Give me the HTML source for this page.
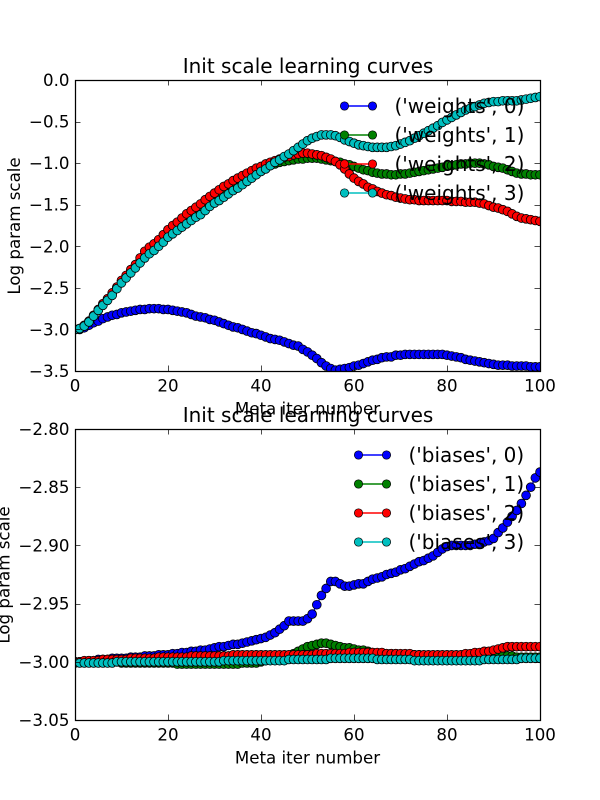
<!DOCTYPE html>
<html>
<head>
<meta charset="utf-8">
<style>
html,body{margin:0;padding:0;background:#fff;}
svg{display:block;}
text{font-family:"DejaVu Sans","Liberation Sans",sans-serif;fill:#000;}
</style>
</head>
<body>
<svg id="fig" xmlns="http://www.w3.org/2000/svg" width="600" height="800" viewBox="0 0 600 800"></svg>
<script>
const xTicks = [0, 20, 40, 60, 80, 100];
const yTicksTop = [0, -0.5, -1, -1.5, -2, -2.5, -3, -3.5];
const yTickLabelsTop = ["0.0", "\u22120.5", "\u22121.0", "\u22121.5", "\u22122.0", "\u22122.5", "\u22123.0", "\u22123.5"];
const yTicksBottom = [-2.8, -2.85, -2.9, -2.95, -3, -3.05];
const yTickLabelsBottom = ["\u22122.80", "\u22122.85", "\u22122.90", "\u22122.95", "\u22123.00", "\u22123.05"];
const weightLabels = ["('weights', 0)", "('weights', 1)", "('weights', 2)", "('weights', 3)"];
const biasLabels = ["('biases', 0)", "('biases', 1)", "('biases', 2)", "('biases', 3)"];
const weights0 = [
-3.0,-3.0,-2.98,-2.95,-2.92,-2.90,-2.87,-2.85,-2.83,-2.82,
-2.80,-2.79,-2.78,-2.77,-2.76,-2.76,-2.75,-2.75,-2.75,-2.76,
-2.76,-2.77,-2.78,-2.79,-2.80,-2.82,-2.84,-2.85,-2.86,-2.88,
-2.89,-2.91,-2.93,-2.95,-2.97,-2.98,-3.00,-3.02,-3.04,-3.05,
-3.07,-3.09,-3.11,-3.12,-3.13,-3.15,-3.17,-3.19,-3.20,-3.24,
-3.27,-3.31,-3.35,-3.40,-3.44,-3.47,-3.49,-3.48,-3.47,-3.46,
-3.44,-3.43,-3.41,-3.39,-3.37,-3.36,-3.34,-3.33,-3.33,-3.31,
-3.31,-3.30,-3.30,-3.30,-3.30,-3.30,-3.30,-3.30,-3.30,-3.30,
-3.31,-3.32,-3.33,-3.34,-3.36,-3.37,-3.38,-3.39,-3.40,-3.41,
-3.42,-3.43,-3.43,-3.43,-3.44,-3.44,-3.44,-3.44,-3.45,-3.45,-3.45];
const weights1 = [
-3.0,-2.99,-2.96,-2.91,-2.84,-2.77,-2.7,-2.64,-2.57,-2.5,
-2.42,-2.36,-2.3,-2.24,-2.17,-2.1,-2.05,-2.0,-1.95,-1.9,
-1.84,-1.79,-1.75,-1.7,-1.66,-1.62,-1.58,-1.54,-1.49,-1.45,
-1.41,-1.37,-1.33,-1.3,-1.26,-1.22,-1.19,-1.16,-1.13,-1.1,
-1.07,-1.05,-1.03,-1.01,-0.99,-0.98,-0.97,-0.96,-0.95,-0.95,
-0.94,-0.94,-0.94,-0.95,-0.96,-0.97,-0.98,-0.99,-1.01,-1.02,
-1.04,-1.06,-1.08,-1.09,-1.11,-1.12,-1.13,-1.13,-1.14,-1.14,
-1.13,-1.13,-1.12,-1.11,-1.1,-1.09,-1.08,-1.07,-1.06,-1.05,
-1.03,-1.03,-1.02,-1.01,-1.01,-1.0,-1.0,-1.0,-1.01,-1.02,
-1.04,-1.05,-1.06,-1.08,-1.1,-1.12,-1.13,-1.13,-1.14,-1.14,-1.14];
const weights2 = [
-3.0,-2.99,-2.95,-2.9,-2.83,-2.76,-2.69,-2.63,-2.56,-2.49,
-2.41,-2.35,-2.28,-2.22,-2.14,-2.06,-2.01,-1.97,-1.92,-1.86,
-1.8,-1.75,-1.71,-1.66,-1.61,-1.57,-1.53,-1.49,-1.44,-1.4,
-1.36,-1.32,-1.28,-1.25,-1.21,-1.18,-1.15,-1.12,-1.09,-1.06,
-1.04,-1.01,-0.99,-0.97,-0.95,-0.93,-0.92,-0.9,-0.89,-0.88,
-0.88,-0.89,-0.9,-0.91,-0.93,-0.95,-0.98,-1.02,-1.07,-1.13,
-1.18,-1.22,-1.25,-1.29,-1.31,-1.34,-1.36,-1.38,-1.39,-1.41,
-1.42,-1.43,-1.44,-1.44,-1.45,-1.45,-1.45,-1.45,-1.45,-1.45,
-1.45,-1.46,-1.46,-1.46,-1.47,-1.47,-1.47,-1.48,-1.49,-1.51,
-1.53,-1.54,-1.56,-1.58,-1.61,-1.64,-1.66,-1.67,-1.68,-1.69,-1.7];
const weights3 = [
-3.0,-2.99,-2.96,-2.91,-2.84,-2.77,-2.71,-2.65,-2.59,-2.51,
-2.44,-2.38,-2.32,-2.26,-2.20,-2.14,-2.09,-2.05,-2.00,-1.95,
-1.89,-1.85,-1.81,-1.77,-1.73,-1.69,-1.65,-1.62,-1.57,-1.52,
-1.48,-1.45,-1.41,-1.37,-1.33,-1.30,-1.26,-1.22,-1.18,-1.14,
-1.10,-1.07,-1.03,-0.99,-0.96,-0.92,-0.89,-0.85,-0.81,-0.77,
-0.73,-0.70,-0.68,-0.66,-0.66,-0.66,-0.67,-0.69,-0.72,-0.74,
-0.76,-0.78,-0.79,-0.80,-0.81,-0.81,-0.81,-0.81,-0.80,-0.79,
-0.77,-0.75,-0.73,-0.70,-0.67,-0.64,-0.61,-0.58,-0.55,-0.51,
-0.48,-0.45,-0.42,-0.39,-0.36,-0.34,-0.32,-0.30,-0.28,-0.27,
-0.26,-0.26,-0.25,-0.25,-0.25,-0.25,-0.24,-0.23,-0.22,-0.21,-0.20];
const biases0 = [
-3,-3,-3,-2.999,-2.999,-2.998,-2.998,-2.998,-2.997,-2.997,
-2.997,-2.997,-2.996,-2.996,-2.996,-2.995,-2.995,-2.995,-2.994,-2.994,
-2.994,-2.993,-2.993,-2.992,-2.992,-2.991,-2.991,-2.99,-2.99,-2.989,
-2.988,-2.987,-2.987,-2.986,-2.985,-2.985,-2.984,-2.983,-2.982,-2.981,
-2.98,-2.979,-2.977,-2.975,-2.972,-2.969,-2.965,-2.965,-2.965,-2.965,
-2.963,-2.959,-2.951,-2.943,-2.937,-2.931,-2.931,-2.933,-2.935,-2.935,
-2.934,-2.933,-2.933,-2.931,-2.929,-2.928,-2.927,-2.925,-2.924,-2.923,
-2.921,-2.92,-2.918,-2.916,-2.914,-2.913,-2.911,-2.909,-2.906,-2.903,
-2.901,-2.9,-2.9,-2.9,-2.9,-2.9,-2.899,-2.898,-2.897,-2.896,
-2.894,-2.889,-2.885,-2.88,-2.875,-2.87,-2.864,-2.857,-2.85,-2.842,-2.837];
const biases1 = [
-3,-3,-3,-3,-3,-3,-3,-3,-3,-3,
-3.001,-3.001,-3.001,-3.001,-3.001,-3.001,-3.001,-3.001,-3.001,-3.001,
-3.001,-3.001,-3.002,-3.002,-3.002,-3.002,-3.002,-3.002,-3.002,-3.002,
-3.002,-3.002,-3.002,-3.002,-3.002,-3.002,-3.001,-3.001,-3.001,-3.001,
-3,-2.999,-2.998,-2.998,-2.997,-2.996,-2.995,-2.993,-2.991,-2.989,
-2.987,-2.986,-2.985,-2.984,-2.984,-2.985,-2.986,-2.987,-2.988,-2.988,
-2.989,-2.99,-2.99,-2.991,-2.992,-2.993,-2.993,-2.993,-2.993,-2.993,
-2.994,-2.994,-2.994,-2.994,-2.994,-2.995,-2.995,-2.995,-2.995,-2.995,
-2.995,-2.995,-2.995,-2.995,-2.995,-2.995,-2.995,-2.995,-2.995,-2.995,
-2.995,-2.995,-2.995,-2.995,-2.995,-2.996,-2.996,-2.996,-2.996,-2.996,-2.996];
const biases2 = [
-3,-3,-2.999,-2.999,-2.999,-2.999,-2.998,-2.998,-2.998,-2.998,
-2.998,-2.998,-2.997,-2.997,-2.997,-2.997,-2.997,-2.997,-2.996,-2.996,
-2.996,-2.996,-2.996,-2.996,-2.996,-2.995,-2.995,-2.995,-2.995,-2.995,
-2.995,-2.995,-2.995,-2.995,-2.994,-2.994,-2.994,-2.994,-2.994,-2.994,
-2.994,-2.994,-2.994,-2.994,-2.994,-2.994,-2.994,-2.994,-2.994,-2.994,
-2.994,-2.994,-2.993,-2.993,-2.993,-2.993,-2.993,-2.993,-2.993,-2.992,
-2.992,-2.992,-2.992,-2.992,-2.992,-2.992,-2.992,-2.993,-2.993,-2.993,
-2.993,-2.993,-2.993,-2.994,-2.994,-2.994,-2.994,-2.994,-2.994,-2.994,
-2.994,-2.994,-2.994,-2.994,-2.993,-2.993,-2.992,-2.992,-2.991,-2.991,
-2.99,-2.989,-2.988,-2.987,-2.987,-2.987,-2.987,-2.987,-2.987,-2.987,-2.987];
const biases3 = [
-3.001,-3.001,-3.001,-3.001,-3.001,-3.001,-3.001,-3.001,-3.001,-3,
-3,-3,-3,-3,-3,-3,-3,-3,-3,-3,
-3,-3,-3,-3,-3,-3,-3,-3,-3,-3,
-3,-3,-2.999,-2.999,-2.999,-2.999,-2.999,-2.999,-2.999,-2.999,
-2.999,-2.999,-2.999,-2.999,-2.999,-2.999,-2.998,-2.998,-2.998,-2.998,
-2.998,-2.998,-2.998,-2.998,-2.998,-2.997,-2.997,-2.997,-2.997,-2.997,
-2.997,-2.997,-2.997,-2.997,-2.997,-2.998,-2.998,-2.998,-2.998,-2.998,
-2.998,-2.998,-2.998,-2.999,-2.999,-2.999,-2.999,-2.999,-2.999,-2.999,
-2.999,-2.999,-2.999,-2.999,-2.999,-2.999,-2.999,-2.999,-2.998,-2.998,
-2.998,-2.998,-2.998,-2.998,-2.998,-2.998,-2.997,-2.997,-2.997,-2.997,-2.997];

const NS = "http://www.w3.org/2000/svg";
const fig = document.getElementById("fig");
const colors = ["#0000ff", "#008000", "#ff0000", "#00bfbf"];

function el(tag, attrs, parent) {
  const e = document.createElementNS(NS, tag);
  for (const k in attrs) e.setAttribute(k, attrs[k]);
  parent.appendChild(e);
  return e;
}

function drawPanel(cfg) {
  const xOf = v => cfg.left + (v - 0) / 100 * (cfg.right - cfg.left);
  const yOf = v => cfg.top + (cfg.yMax - v) / (cfg.yMax - cfg.yMin) * (cfg.bottom - cfg.top);
  const g = el("g", {}, fig);
  
  

  const clipId = cfg.name + "-clip";
  const defs = el("defs", {}, g);
  const cp = el("clipPath", {id: clipId}, defs);
  el("rect", {x: cfg.left, y: cfg.top, width: cfg.right - cfg.left, height: cfg.bottom - cfg.top}, cp);

  const plot = el("g", {"clip-path": "url(#" + clipId + ")"}, g);
  
  

  cfg.series.forEach((vals, i) => {
    const sg = el("g", {}, plot);
    
    
    const pts = vals.map((v, j) => xOf(j).toFixed(2) + "," + yOf(v).toFixed(2)).join(" ");
    el("polyline", {points: pts, fill: "none", stroke: colors[i], "stroke-width": 1.39}, sg);
    vals.forEach((v, j) => {
      el("circle", {cx: xOf(j).toFixed(2), cy: yOf(v).toFixed(2), r: 4.4, fill: colors[i], stroke: "#000", "stroke-width": 0.8}, sg);
    });
  });

  const ticks = el("g", {stroke: "#000", "stroke-width": 0.7}, g);
  
  
  xTicks.forEach(t => {
    const x = Math.round(xOf(t)) + 0.5;
    el("line", {x1: x, x2: x, y1: cfg.top, y2: cfg.top + 5.5}, ticks);
    el("line", {x1: x, x2: x, y1: cfg.bottom, y2: cfg.bottom - 5.5}, ticks);
    const lab = el("text", {x: xOf(t), y: cfg.bottom + 20.5, "text-anchor": "middle", "font-size": 16.67}, g);
    
    
    lab.textContent = String(t);
  });
  cfg.yTicks.forEach((t, i) => {
    const y = Math.round(yOf(t)) + 0.5;
    el("line", {x1: cfg.left, x2: cfg.left + 5.5, y1: y, y2: y}, ticks);
    el("line", {x1: cfg.right, x2: cfg.right - 5.5, y1: y, y2: y}, ticks);
    const lab = el("text", {x: cfg.left - 5.5, y: yOf(t) + 6, "text-anchor": "end", "font-size": 16.67}, g);
    
    
    lab.textContent = cfg.yLabels[i];
  });

  const frame = el("rect", {x: cfg.left + 0.5, y: cfg.top + 0.5, width: cfg.right - cfg.left, height: cfg.bottom - cfg.top, fill: "none", stroke: "#000", "stroke-width": 1.25}, g);
  
  

  const xl = el("text", {x: (cfg.left + cfg.right) / 2, y: cfg.bottom + 43.5, "text-anchor": "middle", "font-size": 16.67}, g);
  
  
  xl.textContent = "Meta iter number";

  const yl = el("text", {transform: "translate(" + cfg.yLabelX + "," + ((cfg.top + cfg.bottom) / 2 + 0.5) + ") rotate(-90)", "text-anchor": "middle", "font-size": 16.67}, g);
  
  
  yl.textContent = "Log param scale";

  const ti = el("text", {x: (cfg.left + cfg.right) / 2 + 0.5, y: cfg.top - 7, "text-anchor": "middle", "font-size": 20}, g);
  
  
  ti.textContent = "Init scale learning curves";

  const leg = el("g", {}, g);
  
  
  cfg.labels.forEach((label, i) => {
    const ly = cfg.legendY + i * 29;
    const entry = el("g", {}, leg);
    
    
    el("line", {x1: cfg.legendX, x2: cfg.legendX + 28, y1: ly, y2: ly, stroke: colors[i], "stroke-width": 1.39}, entry);
    el("circle", {cx: cfg.legendX, cy: ly, r: 4.17, fill: colors[i], stroke: "#000", "stroke-width": 0.7}, entry);
    el("circle", {cx: cfg.legendX + 28, cy: ly, r: 4.17, fill: colors[i], stroke: "#000", "stroke-width": 0.7}, entry);
    const t = el("text", {x: cfg.legendX + 50, y: ly + 7, "font-size": 20}, entry);
    
    
    t.textContent = label;
  });
}

drawPanel({
  name: "weights", left: 75, right: 540, top: 80, bottom: 371,
  yMin: -3.5, yMax: 0, yTicks: yTicksTop, yLabels: yTickLabelsTop,
  series: [weights0, weights1, weights2, weights3], labels: weightLabels,
  legendX: 344.5, legendY: 106, yLabelX: 20
});
drawPanel({
  name: "biases", left: 75, right: 540, top: 429, bottom: 720,
  yMin: -3.05, yMax: -2.8, yTicks: yTicksBottom, yLabels: yTickLabelsBottom,
  series: [biases0, biases1, biases2, biases3], labels: biasLabels,
  legendX: 358.5, legendY: 455, yLabelX: 9.5
});
</script>
</body>
</html>
